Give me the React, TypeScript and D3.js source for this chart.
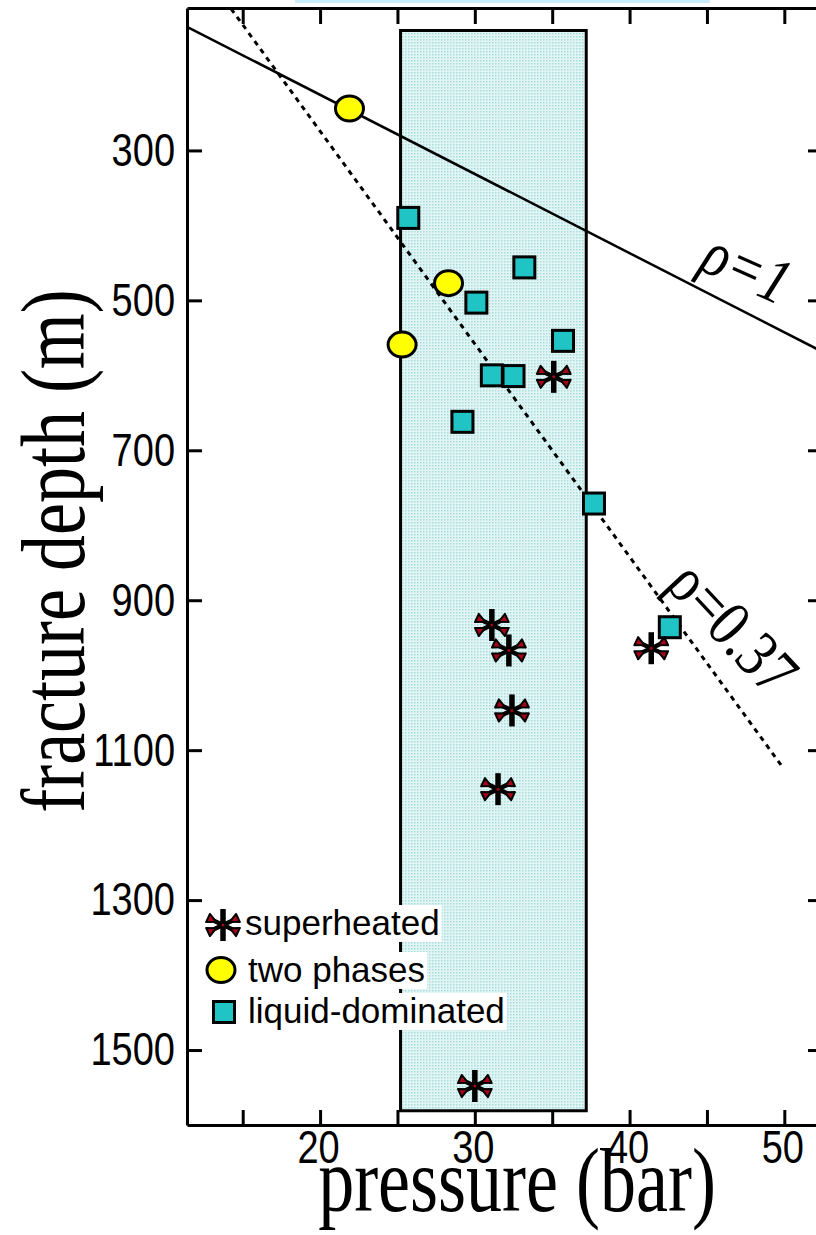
import React, { useEffect, useRef } from 'react';
import * as d3 from 'd3';

// pressure (bar) / fracture depth (m)
const superheated = [
  { p: 35.1, d: 602 },
  { p: 31.1, d: 933 },
  { p: 32.2, d: 967 },
  { p: 32.4, d: 1047 },
  { p: 31.5, d: 1152 },
  { p: 30.0, d: 1548 },
  { p: 41.4, d: 964 },
];
const twoPhases = [
  { p: 21.9, d: 244 },
  { p: 28.3, d: 477 },
  { p: 25.3, d: 559 },
];
const liquidDominated = [
  { p: 25.7, d: 390 },
  { p: 33.2, d: 456 },
  { p: 30.1, d: 503 },
  { p: 35.7, d: 554 },
  { p: 31.1, d: 600 },
  { p: 32.5, d: 601 },
  { p: 29.2, d: 662 },
  { p: 37.7, d: 771 },
  { p: 42.6, d: 936 },
];
const rho1 = [{ p: 11.4, d: 135 }, { p: 52.5, d: 569 }];
const rho037 = [{ p: 14.25, d: 111 }, { p: 49.9, d: 1123 }];
const boxP = [25.2, 37.2];
const boxD = [140, 1581];
const depthTicks = [300, 500, 700, 900, 1100, 1300, 1500];
const pressureTicks = [15, 20, 25, 30, 35, 40, 45, 50];
const pressureLabels = [20, 30, 40, 50];
const legendLabels = ['superheated', 'two phases', 'liquid-dominated'];

const serif = '"Liberation Serif", "Times New Roman", serif';
const sans = '"Liberation Sans", Arial, sans-serif';

export default function App() {
  const chartRef = useRef<SVGSVGElement>(null);

  useEffect(() => {
    const width = 816;
    const height = 1235;
    const svg = d3.select(chartRef.current);
    svg.selectAll('*').remove();
    svg.attr('width', width).attr('height', height);

    const left = 187, right = 823, top = 8, bottom = 1125;
    const x = d3.scaleLinear().domain([11.4, 52.5]).range([left, right]);
    const y = d3.scaleLinear().domain([110, 1600]).range([top, bottom]);

    svg.append('rect').attr('width', width).attr('height', height).attr('fill', '#fff');
    // cut-off strip at the very top
    svg.append('rect').attr('x', 295).attr('y', 0).attr('width', 415).attr('height', 3).attr('fill', '#c9eefb');

    const defs = svg.append('defs');
    defs.append('clipPath').attr('id', 'plotclip')
      .append('rect').attr('x', left).attr('y', top)
      .attr('width', right - left).attr('height', bottom - top);

    // dotted fill for the box
    const pat = defs.append('pattern').attr('id', 'stipple')
      .attr('width', 3).attr('height', 3).attr('patternUnits', 'userSpaceOnUse');
    pat.append('rect').attr('width', 3).attr('height', 3).attr('fill', '#e2f5f5');
    pat.append('rect').attr('width', 1.5).attr('height', 1.5).attr('fill', '#a9dcdc');

    svg.append('rect')
      .attr('x', x(boxP[0])).attr('y', y(boxD[0]))
      .attr('width', x(boxP[1]) - x(boxP[0])).attr('height', y(boxD[1]) - y(boxD[0]))
      .attr('fill', 'url(#stipple)').attr('stroke', '#000').attr('stroke-width', 3);

    const line = d3.line<{ p: number; d: number }>().x(d => x(d.p)).y(d => y(d.d));
    const lines = svg.append('g').attr('clip-path', 'url(#plotclip)');
    lines.append('path').attr('d', line(rho1)).attr('fill', 'none')
      .attr('stroke', '#000').attr('stroke-width', 2.5);
    lines.append('path').attr('d', line(rho037)).attr('fill', 'none')
      .attr('stroke', '#000').attr('stroke-width', 3).attr('stroke-dasharray', '5,5');

    // line labels
    svg.append('text')
      .attr('transform', `translate(${x(47.6)},${y(456)}) rotate(24) scale(1,1.2)`)
      .attr('text-anchor', 'middle').attr('dominant-baseline', 'central')
      .style('font-family', serif).style('font-style', 'italic').style('font-size', '54px')
      .text('ρ=1');
    svg.append('text')
      .attr('transform', `translate(${x(46.7)},${y(936)}) rotate(47) scale(1,1.2)`)
      .attr('text-anchor', 'middle').attr('dominant-baseline', 'central')
      .style('font-family', serif).style('font-size', '55px')
      .text('ρ=0.37');

    const drawStar = (g: any, cx: number, cy: number) => {
      const s = g.append('g').attr('transform', `translate(${cx},${cy})`);
      const arms = [[-15, -7], [15, -7], [-15, 7], [15, 7]];
      arms.forEach(([ax, ay]) => {
        s.append('line').attr('x1', 0).attr('y1', 0).attr('x2', ax).attr('y2', ay)
          .attr('stroke', '#000').attr('stroke-width', 4.5);
      });
      arms.forEach(([ax, ay]) => {
        const len = Math.hypot(ax, ay);
        const nx = (-ay / len) * 4.5, ny = (ax / len) * 4.5;
        const bx = ax * 0.45, by = ay * 0.45;
        s.append('path')
          .attr('d', `M${bx},${by}L${ax + nx},${ay + ny}L${ax - nx},${ay - ny}Z`)
          .attr('fill', '#a80018').attr('stroke', '#000').attr('stroke-width', 2)
          .attr('stroke-linejoin', 'round');
      });
      s.append('line').attr('x1', 0).attr('y1', -16).attr('x2', 0).attr('y2', 16)
        .attr('stroke', '#000').attr('stroke-width', 5.5);
      s.append('circle').attr('r', 1.5).attr('fill', '#a80018');
    };
    const drawCircle = (g: any, cx: number, cy: number) => {
      g.append('ellipse').attr('cx', cx).attr('cy', cy).attr('rx', 14).attr('ry', 12.5)
        .attr('fill', '#ffff00').attr('stroke', '#000').attr('stroke-width', 3);
    };
    const drawSquare = (g: any, cx: number, cy: number) => {
      g.append('rect').attr('x', cx - 10.5).attr('y', cy - 10.5).attr('width', 21).attr('height', 21)
        .attr('fill', '#20c4c4').attr('stroke', '#000').attr('stroke-width', 3);
    };

    const marks = svg.append('g');
    liquidDominated.forEach(d => drawSquare(marks, x(d.p), y(d.d)));
    twoPhases.forEach(d => drawCircle(marks, x(d.p), y(d.d)));
    superheated.forEach(d => drawStar(marks, x(d.p), y(d.d)));

    // axes
    const styleAxis = (g: any) => {
      g.select('.domain').attr('stroke', '#000').attr('stroke-width', 3);
      g.selectAll('.tick line').attr('stroke', '#000').attr('stroke-width', 3);
      g.selectAll('.tick text').attr('fill', '#000')
        .style('font-family', sans).style('font-size', '38px');
    };

    svg.append('g').attr('transform', `translate(${left},0)`)
      .call(d3.axisLeft(y).tickValues(depthTicks).tickSize(-15).tickSizeOuter(0).tickPadding(12)
        .tickFormat(d3.format('d')))
      .call(styleAxis)
      .selectAll('.tick text').attr('transform', 'scale(1,1.22)');
    svg.append('g').attr('transform', `translate(${right},0)`)
      .call(d3.axisRight(y).tickValues(depthTicks).tickSize(-15).tickSizeOuter(0).tickFormat(() => ''))
      .call(styleAxis);
    svg.append('g').attr('transform', `translate(0,${bottom})`)
      .call(d3.axisBottom(x).tickValues(pressureTicks).tickSize(-15).tickSizeOuter(0)
        .tickFormat(d => (pressureLabels.includes(+d) ? String(d) : '')))
      .call(styleAxis)
      .selectAll('.tick text')
      .attr('y', 0).attr('dy', 0)
      .attr('transform', 'translate(-2,38) scale(1,1.22)');
    svg.append('g').attr('transform', `translate(0,${top})`)
      .call(d3.axisTop(x).tickValues(pressureTicks).tickSize(-16).tickSizeOuter(0).tickFormat(() => ''))
      .call(styleAxis);

    // axis titles
    svg.append('text')
      .attr('transform', 'translate(517,1211) scale(1,1.25)').attr('text-anchor', 'middle')
      .style('font-family', serif).style('font-size', '72px')
      .text('pressure (bar)');
    svg.append('text')
      .attr('transform', 'translate(84,551) rotate(-90) scale(1,1.27)').attr('text-anchor', 'middle')
      .style('font-family', serif).style('font-size', '72px')
      .text('fracture depth (m)');

    // legend
    const legend = svg.append('g');
    const rows = [
      { mx: 223, my: 925, tx: 245, ty: 935, draw: drawStar },
      { mx: 221, my: 970, tx: 248, ty: 982, draw: drawCircle },
      { mx: 224, my: 1012, tx: 248, ty: 1023, draw: drawSquare },
    ];
    rows.forEach((r, i) => {
      const bg = legend.append('rect').attr('fill', '#fff');
      const t = legend.append('text').attr('x', r.tx).attr('y', r.ty)
        .style('font-family', sans).style('font-size', '35px')
        .text(legendLabels[i]);
      const bb = (t.node() as SVGTextElement).getBBox();
      bg.attr('x', bb.x - 2).attr('y', bb.y + 2).attr('width', bb.width + 4).attr('height', bb.height - 2);
      r.draw(legend, r.mx, r.my);
    });
  }, []);

  return <svg ref={chartRef} style={{ position: 'absolute', left: 0, top: 0, display: 'block' }} />;
}
